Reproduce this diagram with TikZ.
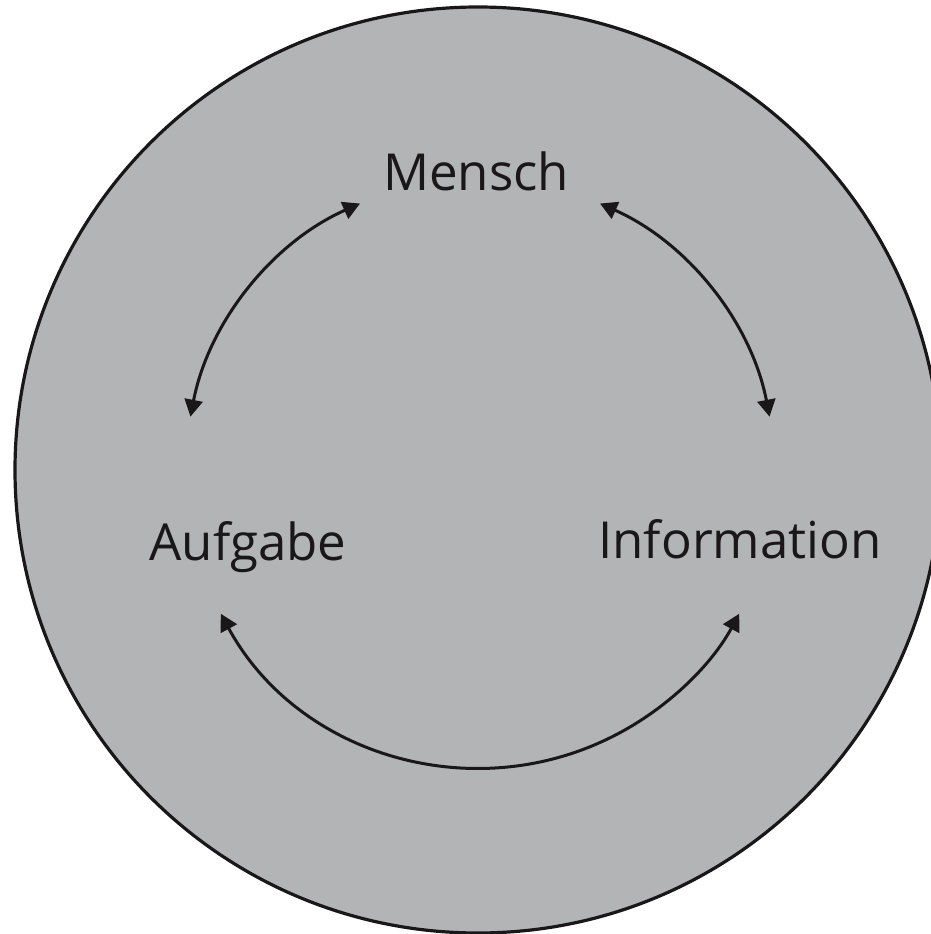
\documentclass[tikz,border=0pt]{standalone}
\usepackage{fontspec}
\setmainfont{Open Sans}
\usetikzlibrary{arrows.meta,calc}
\definecolor{discgray}{HTML}{B3B4B6}
\definecolor{ink}{HTML}{1A1718}
\begin{document}
\begin{tikzpicture}[x=1pt,y=-1pt,
  label/.style={anchor=base,inner sep=0pt,text=ink,font=\fontsize{51}{60}\selectfont},
  arr/.style={draw=ink,line width=3pt,{Triangle[length=17pt,width=18pt]}-{Triangle[length=17pt,width=18pt]}}]
  \useasboundingbox (0,0) rectangle (930,934);
  % background disc
  \draw[draw=ink,line width=3.2pt,fill=discgray] (478,470) circle[radius=463];
  % labels
  \node[label] (mensch) at (476,190) {Mensch};
  \node[label] (aufgabe) at (248,560) {Aufgabe};
  \node[label] (info) at (740,558) {Information};
  % arc ends on the inner ring
  \coordinate (c) at (480,473);
  \coordinate (mA) at ($(c)+(-114:295)$);
  \coordinate (aM) at ($(c)+(-169:295)$);
  \coordinate (mI) at ($(c)+(-66:295)$);
  \coordinate (iM) at ($(c)+(-11:295)$);
  \coordinate (aI) at ($(c)+(151.5:295)$);
  \coordinate (iA) at ($(c)+(28.5:295)$);
  % double-headed arcs between the three terms
  \draw[arr] (mA) arc[start angle=-114,end angle=-169,radius=295];
  \draw[arr] (mI) arc[start angle=-66,end angle=-11,radius=295];
  \draw[arr] (aI) arc[start angle=151.5,end angle=28.5,radius=295];
\end{tikzpicture}
\end{document}
